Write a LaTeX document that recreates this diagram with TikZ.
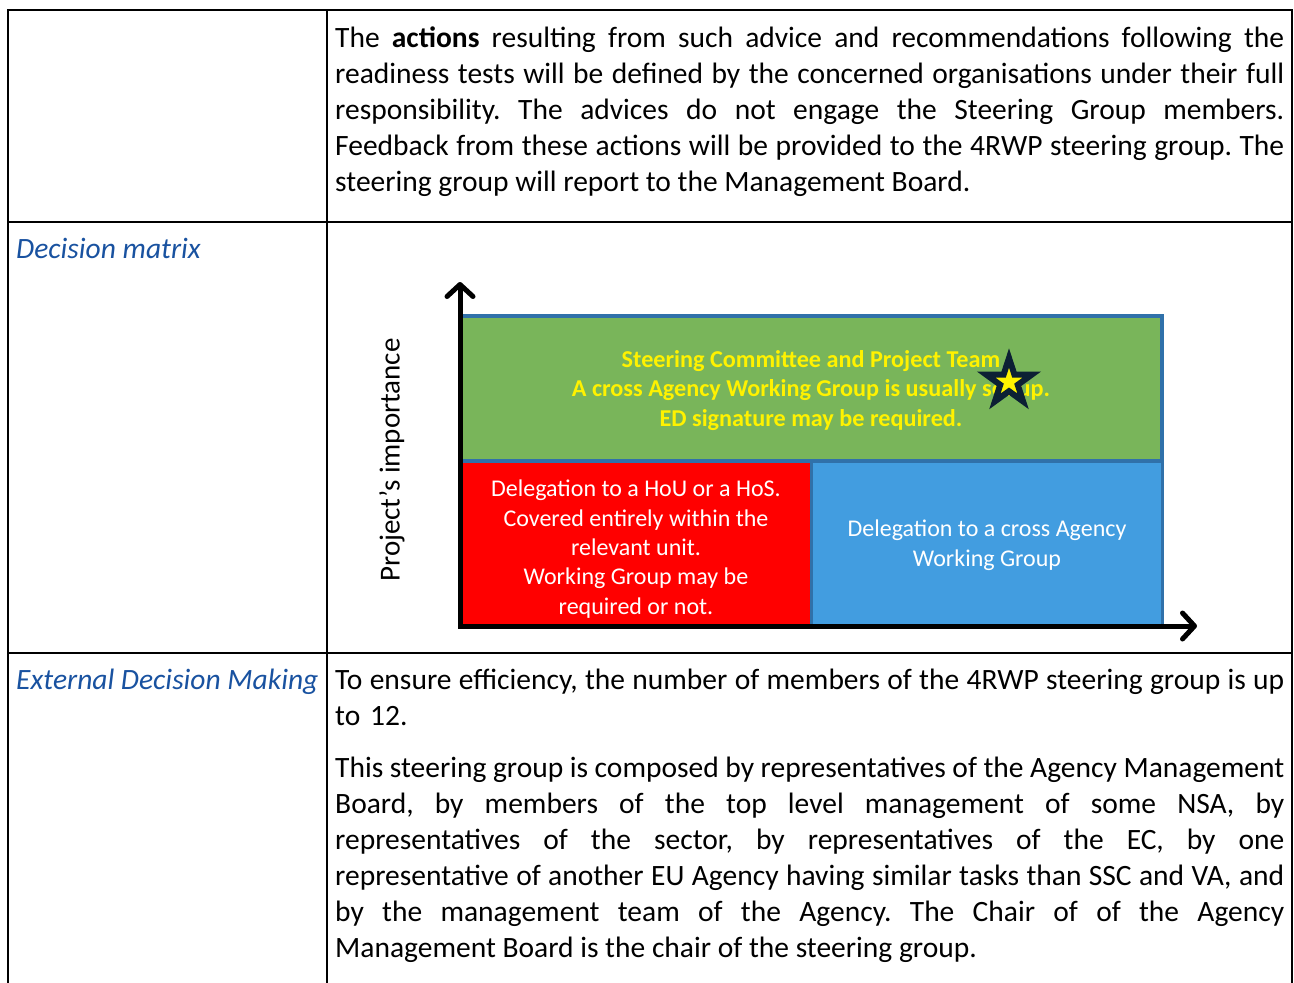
\documentclass[tikz,border=0pt]{standalone}
\usepackage{fontspec}
\setmainfont{Carlito}
\usetikzlibrary{arrows.meta}
\definecolor{cellgreen}{RGB}{121,181,90}
\definecolor{cellred}{RGB}{255,0,0}
\definecolor{cellblue}{RGB}{66,157,224}
\definecolor{cellborder}{RGB}{48,113,170}
\definecolor{labelblue}{RGB}{25,82,160}
\definecolor{starnavy}{RGB}{12,32,52}
\newcommand{\fontspaces}{\spaceskip=0pt\xspaceskip=0pt\frenchspacing}
\newcommand{\fullline}[1]{\makebox[949pt][s]{\fontspaces #1}}

\begin{document}
\begin{tikzpicture}[x=1pt,y=-1pt,
    body/.style ={anchor=base west, inner sep=0pt, text width=949pt, align=left, font=\fontsize{29.5}{36}\selectfont\fontspaces},
    rowlabel/.style ={anchor=base west, inner sep=0pt, text=labelblue, font=\fontsize{29.5}{36}\selectfont\itshape},
    celltext/.style ={anchor=base, inner sep=0pt, align=center, font=\fontsize{24}{29.3}\selectfont\fontspaces},
    rule/.style ={line width=2pt},
    barb/.tip ={Straight Barb[length=12pt,width=26pt,round]},
    axis/.style ={line width=5pt, barb-barb},
    starline/.style ={draw=starnavy, line width=6pt, fill=yellow, miter limit=10}]
   \useasboundingbox (0,0) rectangle (1294,983);

   % table
   \draw[rule] (8,983) -- (8,10) -- (1292,10) -- (1292,983);
   \draw[rule] (327,10) -- (327,983);
   \draw[rule] (8,222) -- (1292,222);
   \draw[rule] (8,653) -- (1292,653);

   \node[body] (actions) at (335,47) {\fullline{The \textbf{actions} resulting from such advice and recommendations following the}\\
     \fullline{readiness tests will be defined by the concerned organisations under their full}\\
     \fullline{responsibility. The advices do not engage the Steering Group members.}\\
     \fullline{Feedback from these actions will be provided to the 4RWP steering group. The}\\
     \fontspaces steering group will report to the Management Board.};

   \node[rowlabel] (matrix) at (16,258) {Decision matrix};
   \node[rowlabel] (external) at (16,689) {External Decision Making};

   \node[body] (efficiency) at (335,689) {\fullline{To ensure efficiency, the number of members of the 4RWP steering group is up}\\
     to 12.};
   \node[body] (composed) at (335,777) {\fullline{This steering group is composed by representatives of the Agency Management}\\
     \fullline{Board, by members of the top level management of some NSA, by}\\
     \fullline{representatives of the sector, by representatives of the EC, by one}\\
     \fullline{representative of another EU Agency having similar tasks than SSC and VA, and}\\
     \fullline{by the management team of the Agency. The Chair of of the Agency}\\
     \fontspaces Management Board is the chair of the steering group.};

   % decision matrix
   \fill[cellred] (461,461) rectangle (811,626);
   \filldraw[fill=cellblue, draw=cellborder, line width=3pt] (811,461) rectangle (1162,626);
   \filldraw[fill=cellgreen, draw=cellborder, line width=4pt] (461,316) rectangle (1162,461);

   \node[celltext, text=yellow, font=\fontsize{24.2}{29.3}\selectfont\bfseries\fontspaces] (team) at (811,426)
     {Steering Committee and Project Team\\ A cross Agency Working Group is usually set up.\\ ED signature may be required.};
   \begin{scope}
     \clip (461,461) rectangle (811,617);
     \node[celltext, text=white] (unit) at (636,614)
       {Delegation to a HoU or a HoS.\\ Covered entirely within the\\ relevant unit.\\ Working Group may be\\ required or not.};
   \end{scope}
   \node[celltext, text=white] (agency) at (987,566) {Delegation to a cross Agency\\ Working Group};

   \coordinate (mark) at (1009,382);
   \draw[starline] ([shift={(-90:24)}]mark)
     \foreach \k in {1,...,9} { -- ([shift={(-90+36*\k:{ifthenelse(isodd(\k),9.2,24)})}]mark) } -- cycle;

   \coordinate (origin) at (460,626);
   \coordinate (ytip) at (460,282);
   \coordinate (xtip) at (1197,626);
   \draw[axis] (ytip) -- (origin) -- (xtip);

   \node[rotate=90, inner sep=0pt, font=\fontsize{29}{34}\selectfont] (importance) at (392,460) {Project’s importance};
\end{tikzpicture}
\end{document}
